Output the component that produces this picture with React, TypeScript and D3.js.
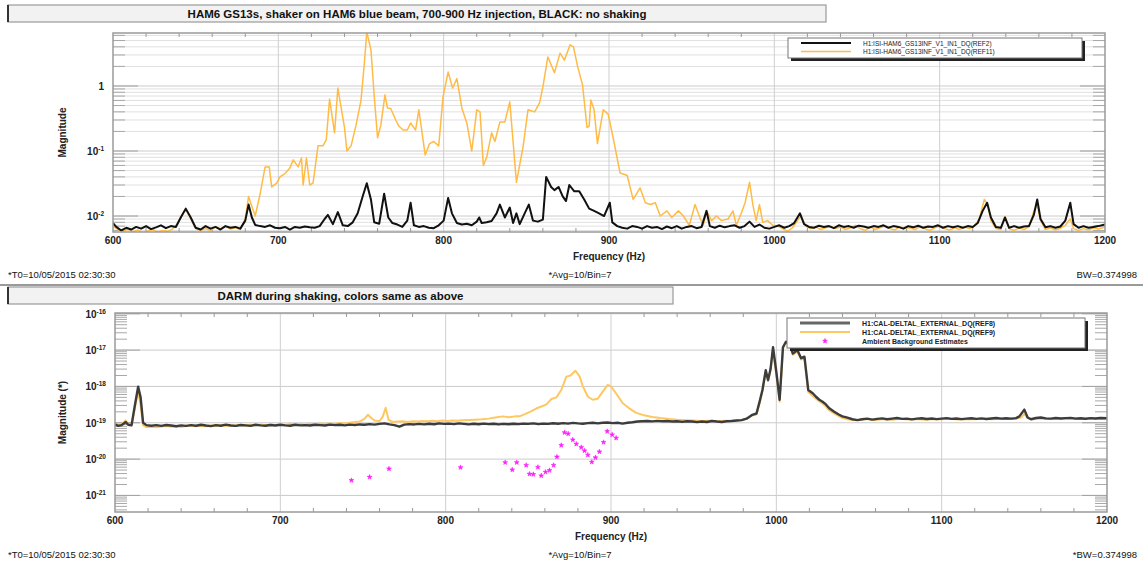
import React from 'react';
import * as d3 from 'd3';

type Pt = [number, number];

// ---- data (frequency in Hz, magnitude) ----
const freqTicks = [600, 700, 800, 900, 1000, 1100, 1200];
const topDecades = [0.01, 0.1, 1];
const topDecadeLabels: [string, string][] = [['10', '-2'], ['10', '-1'], ['1', '']];
const bottomDecades = [1e-21, 1e-20, 1e-19, 1e-18, 1e-17, 1e-16];
const bottomDecadeLabels: [string, string][] = [['10', '-21'], ['10', '-20'], ['10', '-19'], ['10', '-18'], ['10', '-17'], ['10', '-16']];

const topLegend = ['H1:ISI-HAM6_GS13INF_V1_IN1_DQ(REF2)', 'H1:ISI-HAM6_GS13INF_V1_IN1_DQ(REF11)'];
const bottomLegend = ['H1:CAL-DELTAL_EXTERNAL_DQ(REF8)', 'H1:CAL-DELTAL_EXTERNAL_DQ(REF9)', 'Ambient Background Estimates'];

// GS13, no shaking (black)
const gs13Quiet: Pt[] = [
  [600, 0.0078], [602, 0.0068], [605, 0.006], [608, 0.0066], [611, 0.0062], [614, 0.0068], [617, 0.0064], [620, 0.007],
  [623, 0.0063], [626, 0.0067], [629, 0.0072], [632, 0.0065], [635, 0.007], [638, 0.0068], [641, 0.0095], [644, 0.013],
  [647, 0.0095], [650, 0.0066], [653, 0.0062], [656, 0.007], [659, 0.0064], [662, 0.0068], [665, 0.0062], [668, 0.007],
  [671, 0.0066], [674, 0.0068], [677, 0.0064], [680, 0.0085], [682, 0.015], [684, 0.0095], [686, 0.0073], [689, 0.007],
  [692, 0.0068], [695, 0.0072], [698, 0.0066], [701, 0.0065], [704, 0.0068], [707, 0.0062], [710, 0.0068], [713, 0.0066],
  [716, 0.0069], [719, 0.0067], [722, 0.0066], [725, 0.007], [728, 0.009], [730, 0.0104], [733, 0.0075], [736, 0.0115],
  [739, 0.0072], [742, 0.007], [745, 0.008], [748, 0.011], [751, 0.02], [753.5, 0.032], [756, 0.018], [758, 0.008],
  [761, 0.0076], [764, 0.022], [766.5, 0.0095], [769, 0.0078], [772, 0.0074], [775, 0.0068], [778, 0.0085], [780, 0.016],
  [782, 0.0072], [785, 0.0068], [788, 0.007], [791, 0.0066], [794, 0.0065], [797, 0.0072], [800, 0.0085], [802.7, 0.019],
  [805, 0.011], [808, 0.0078], [811, 0.0074], [814, 0.0076], [817, 0.0072], [820, 0.0082], [821.5, 0.0095], [823, 0.0078],
  [826, 0.008], [829, 0.0084], [832, 0.011], [834, 0.015], [837, 0.0095], [840, 0.0135], [842, 0.0078], [844, 0.011],
  [846, 0.0075], [849, 0.011], [851.5, 0.015], [854, 0.0085], [857, 0.0082], [860, 0.0088], [862, 0.04], [865, 0.028],
  [867, 0.025], [869.5, 0.028], [872, 0.02], [874, 0.017], [876, 0.03], [879, 0.024], [882, 0.024], [885, 0.018],
  [888, 0.013], [891, 0.012], [894, 0.011], [897, 0.01], [900.5, 0.016], [902, 0.008], [905, 0.007], [908, 0.0066],
  [911, 0.0064], [914, 0.007], [917, 0.0068], [920, 0.0064], [923, 0.007], [926, 0.0066], [929, 0.0068], [932, 0.0063],
  [935, 0.0069], [938, 0.0065], [941, 0.007], [944, 0.0064], [947, 0.0068], [950, 0.007], [953, 0.0065], [956, 0.0068],
  [959, 0.012], [961, 0.007], [964, 0.0066], [967, 0.0071], [970, 0.0067], [973, 0.007], [976, 0.0072], [979, 0.0066],
  [982, 0.007], [985, 0.0082], [988, 0.0068], [991, 0.0074], [994, 0.0066], [997, 0.0064], [1000, 0.0068], [1003, 0.0072],
  [1006, 0.0066], [1009, 0.007], [1012, 0.0078], [1015.5, 0.011], [1018, 0.0075], [1021, 0.0068], [1024, 0.0066], [1027, 0.0071],
  [1030, 0.0068], [1033, 0.007], [1036, 0.0065], [1039, 0.0072], [1042, 0.0068], [1045, 0.007], [1048, 0.0066], [1051, 0.0071],
  [1054, 0.0069], [1057, 0.0066], [1060, 0.007], [1063, 0.0068], [1066, 0.0072], [1069, 0.0066], [1072, 0.007], [1075, 0.0068],
  [1078, 0.0064], [1081, 0.007], [1084, 0.0067], [1087, 0.0071], [1090, 0.0066], [1093, 0.0069], [1096, 0.0068], [1099, 0.0072],
  [1102, 0.0066], [1105, 0.007], [1108, 0.0067], [1111, 0.007], [1114, 0.0066], [1117, 0.007], [1120, 0.0068], [1123, 0.0078],
  [1126, 0.012], [1128.7, 0.016], [1131, 0.0095], [1134, 0.0068], [1137, 0.0066], [1139.5, 0.0095], [1142, 0.0066], [1145, 0.007],
  [1148, 0.0066], [1151, 0.0069], [1154, 0.007], [1157, 0.0105], [1159, 0.018], [1161, 0.009], [1164, 0.0067], [1167, 0.007],
  [1170, 0.0066], [1173, 0.0069], [1176, 0.0085], [1179, 0.016], [1181, 0.0075], [1184, 0.0066], [1187, 0.007], [1190, 0.0066],
  [1193, 0.0068], [1196, 0.007], [1200, 0.0074],
];

// GS13, shaker on (orange)
const gs13Shaking: Pt[] = [
  [600, 0.007], [603, 0.0062], [606, 0.0058], [609, 0.0063], [612, 0.0057], [615, 0.0061], [618, 0.0055], [621, 0.0059],
  [624, 0.0062], [627, 0.0057], [630, 0.006], [633, 0.0058], [636, 0.0063], [639, 0.0075], [641, 0.0098], [644, 0.0125],
  [647, 0.0092], [650, 0.0064], [653, 0.006], [656, 0.0064], [659, 0.006], [662, 0.0068], [665, 0.0064], [668, 0.007],
  [671, 0.0063], [674, 0.0066], [677, 0.0062], [680, 0.009], [682, 0.02], [684, 0.014], [686, 0.01], [689, 0.022],
  [692, 0.057], [694.5, 0.057], [696, 0.028], [699, 0.032], [701, 0.04], [704, 0.045], [707, 0.055], [709, 0.073],
  [712, 0.057], [714, 0.078], [715, 0.03], [717, 0.078], [719, 0.03], [721, 0.032], [724, 0.12], [727, 0.12],
  [729, 0.15], [731, 0.63], [734, 0.19], [736, 0.93], [740, 0.23], [741.5, 0.1], [744, 0.12], [747, 0.25],
  [750, 0.6], [752, 2.2], [753.5, 6.8], [756, 3.6], [758, 0.7], [760, 0.16], [762, 0.25], [764.5, 0.73],
  [766, 0.46], [768, 0.45], [771, 0.3], [773, 0.24], [775.5, 0.21], [778, 0.21], [780, 0.27], [783, 0.21],
  [785, 0.43], [788.8, 0.087], [791.5, 0.13], [794, 0.14], [797, 0.12], [799.6, 0.68], [802.7, 1.64], [805.4, 0.93],
  [808, 1.3], [811, 0.46], [814, 0.27], [817, 0.1], [820, 0.43], [822, 0.4], [824, 0.06], [826, 0.08],
  [829, 0.19], [831, 0.14], [834, 0.28], [837, 0.28], [840, 0.57], [844, 0.033], [848, 0.115], [851, 0.43],
  [855, 0.4], [858, 0.55], [860, 0.96], [863, 2.8], [867, 1.6], [870.4, 3.2], [873, 2.5], [876.5, 4.3],
  [878.5, 4.0], [881, 2.0], [884, 1.04], [886.7, 0.23], [888, 0.24], [889, 0.61], [891, 0.43], [893, 0.13],
  [896.5, 0.43], [899.5, 0.37], [902.5, 0.16], [906.7, 0.046], [909, 0.044], [911, 0.042], [914.6, 0.018], [918.8, 0.027],
  [922, 0.016], [925, 0.015], [928, 0.016], [931, 0.01], [935, 0.012], [938, 0.0095], [942, 0.012], [945, 0.01],
  [948.6, 0.0072], [952, 0.015], [955, 0.0095], [957, 0.0072], [959, 0.012], [962, 0.0085], [965, 0.01], [968, 0.0085],
  [972, 0.009], [975, 0.012], [977, 0.0072], [980, 0.011], [982.3, 0.016], [985, 0.033], [987, 0.015], [989, 0.0085],
  [991, 0.015], [993, 0.008], [996, 0.0085], [999, 0.0072], [1002, 0.007], [1005, 0.0064], [1008, 0.0058], [1011, 0.0066],
  [1014, 0.0085], [1016, 0.01], [1019, 0.007], [1022, 0.0064], [1025, 0.0068], [1028, 0.0062], [1031, 0.0066], [1034, 0.007],
  [1037, 0.0064], [1040, 0.0068], [1043, 0.0062], [1046, 0.0066], [1049, 0.0072], [1052, 0.0064], [1055, 0.006], [1058, 0.0068],
  [1061, 0.0062], [1064, 0.0066], [1067, 0.007], [1070, 0.0064], [1073, 0.0061], [1076, 0.0068], [1079, 0.0064], [1082, 0.0066],
  [1085, 0.0062], [1088, 0.0068], [1091, 0.0064], [1094, 0.006], [1097, 0.0066], [1100, 0.007], [1103, 0.0064], [1106, 0.0061],
  [1109, 0.0066], [1112, 0.0062], [1115, 0.0068], [1118, 0.0064], [1121, 0.007], [1124, 0.009], [1127, 0.018], [1129, 0.015],
  [1131, 0.0085], [1134, 0.0064], [1137, 0.0062], [1139.5, 0.0098], [1142, 0.0064], [1145, 0.006], [1148, 0.0066], [1151, 0.0062],
  [1154, 0.0068], [1157, 0.012], [1159, 0.015], [1161, 0.0085], [1164, 0.0062], [1167, 0.0066], [1170, 0.0061], [1173, 0.0065],
  [1176, 0.0072], [1179, 0.009], [1181, 0.0064], [1184, 0.006], [1187, 0.0064], [1190, 0.0061], [1193, 0.0066], [1196, 0.0063],
  [1200, 0.0068],
];

// DARM, no shaking (dark)
const darmQuiet: Pt[] = [
  [600, 9.0e-20], [602, 8.2e-20], [604, 8.6e-20], [606.5, 1.05e-19], [608, 8.8e-20], [610, 8.5e-20], [612, 3.0e-19], [614, 9.8e-19],
  [615.5, 5.0e-19], [617, 1.0e-19], [619, 8.6e-20], [622, 8.3e-20], [625, 8.6e-20], [628, 8.2e-20], [631, 8.7e-20], [634, 8.4e-20],
  [637, 8.0e-20], [640, 8.5e-20], [643, 8.2e-20], [646, 8.6e-20], [649, 8.3e-20], [652, 8.8e-20], [655, 8.4e-20], [658, 8.1e-20],
  [661, 8.6e-20], [664, 8.3e-20], [667, 8.9e-20], [670, 8.4e-20], [673, 8.2e-20], [676, 8.7e-20], [679, 8.5e-20], [682, 8.2e-20],
  [685, 8.8e-20], [688, 8.5e-20], [691, 8.3e-20], [694, 8.7e-20], [697, 8.4e-20], [700, 8.8e-20], [703, 8.5e-20], [706, 8.3e-20],
  [709, 8.8e-20], [712, 8.5e-20], [715, 8.6e-20], [718, 8.4e-20], [721, 8.8e-20], [724, 8.6e-20], [727, 8.4e-20], [730, 8.9e-20],
  [733, 8.6e-20], [736, 8.8e-20], [739, 8.5e-20], [742, 8.9e-20], [745, 8.7e-20], [748, 9.0e-20], [751, 8.8e-20], [754, 9.2e-20],
  [757, 8.9e-20], [760, 9.3e-20], [763, 9.6e-20], [766, 9.0e-20], [769, 8.6e-20], [772, 7.8e-20], [775, 8.9e-20], [778, 9.2e-20],
  [781, 9.0e-20], [784, 9.3e-20], [787, 9.0e-20], [790, 9.4e-20], [793, 9.1e-20], [796, 9.6e-20], [799, 9.3e-20], [802, 9.5e-20],
  [805, 9.2e-20], [808, 9.6e-20], [811, 9.3e-20], [814, 9.0e-20], [817, 9.4e-20], [820, 9.1e-20], [823, 9.5e-20], [826, 9.2e-20],
  [829, 9.4e-20], [832, 9.0e-20], [835, 9.3e-20], [838, 9.1e-20], [841, 9.4e-20], [844, 9.2e-20], [847, 9.5e-20], [850, 9.3e-20],
  [853, 9.6e-20], [856, 9.2e-20], [859, 9.5e-20], [862, 9.3e-20], [865, 9.7e-20], [868, 9.4e-20], [871, 9.8e-20], [874, 9.5e-20],
  [877, 9.9e-20], [880, 9.6e-20], [883, 9.4e-20], [886, 9.8e-20], [889, 1.0e-19], [892, 9.6e-20], [895, 1.0e-19], [898, 1.02e-19],
  [901, 9.8e-20], [904, 1.0e-19], [907, 9.5e-20], [910, 1.0e-19], [913, 1.03e-19], [916, 1.08e-19], [919, 1.1e-19], [922, 1.12e-19],
  [925, 1.09e-19], [928, 1.13e-19], [931, 1.1e-19], [934, 1.12e-19], [937, 1.08e-19], [940, 1.1e-19], [943, 1.06e-19], [946, 1.1e-19],
  [949, 1.08e-19], [952, 1.04e-19], [955, 1.08e-19], [958, 1.05e-19], [961, 1.12e-19], [964, 1.08e-19], [967, 1.05e-19], [970, 1.1e-19],
  [973, 1.12e-19], [976, 1.15e-19], [979, 1.18e-19], [982, 1.3e-19], [985.5, 1.66e-19], [988, 1.8e-19], [990, 4.0e-19], [991.6, 8.0e-19],
  [993.6, 2.8e-18], [995, 1.5e-18], [996.5, 3.0e-18], [998, 1.2e-17], [1000, 2.5e-18], [1002, 4.3e-19], [1004, 1.2e-17], [1005.8, 1.7e-17],
  [1008, 1.5e-17], [1010, 8.0e-18], [1012.7, 1.0e-17], [1015, 6.0e-18], [1017, 6.6e-18], [1019.3, 8.0e-19], [1022, 6.5e-19], [1024, 5.2e-19],
  [1026, 4.3e-19], [1028, 3.8e-19], [1030, 3.2e-19], [1032, 2.5e-19], [1035, 2.0e-19], [1038, 1.66e-19], [1040, 1.5e-19], [1043, 1.38e-19],
  [1046, 1.25e-19], [1049, 1.18e-19], [1052, 1.25e-19], [1055, 1.3e-19], [1058, 1.22e-19], [1061, 1.28e-19], [1064, 1.32e-19], [1067, 1.25e-19],
  [1070, 1.3e-19], [1073, 1.35e-19], [1076, 1.28e-19], [1079, 1.3e-19], [1082, 1.24e-19], [1085, 1.3e-19], [1088, 1.33e-19], [1091, 1.27e-19],
  [1094, 1.31e-19], [1097, 1.26e-19], [1100, 1.3e-19], [1103, 1.34e-19], [1106, 1.28e-19], [1109, 1.31e-19], [1112, 1.26e-19], [1115, 1.3e-19],
  [1118, 1.33e-19], [1121, 1.28e-19], [1124, 1.32e-19], [1127, 1.27e-19], [1130, 1.31e-19], [1133, 1.35e-19], [1136, 1.3e-19], [1139, 1.33e-19],
  [1142, 1.3e-19], [1145, 1.34e-19], [1147, 1.5e-19], [1150, 2.3e-19], [1152, 1.4e-19], [1154, 1.25e-19], [1157, 1.35e-19], [1160, 1.4e-19],
  [1163, 1.32e-19], [1166, 1.3e-19], [1169, 1.35e-19], [1172, 1.31e-19], [1175, 1.34e-19], [1178, 1.36e-19], [1181, 1.3e-19], [1184, 1.33e-19],
  [1187, 1.29e-19], [1190, 1.34e-19], [1193, 1.31e-19], [1196, 1.35e-19], [1200, 1.33e-19],
];

// DARM, shaker on (orange)
const darmShaking: Pt[] = [
  [600, 9.5e-20], [602, 8.8e-20], [604, 9.3e-20], [606.5, 1.15e-19], [608, 9.0e-20], [610, 8.6e-20], [612, 2.5e-19], [614, 7.5e-19],
  [615.5, 3.0e-19], [617, 8.5e-20], [619, 7.6e-20], [622, 7.8e-20], [625, 7.5e-20], [628, 7.9e-20], [631, 8.2e-20], [634, 7.8e-20],
  [637, 8.0e-20], [640, 7.7e-20], [643, 8.1e-20], [646, 8.4e-20], [649, 8.0e-20], [652, 8.3e-20], [655, 8.0e-20], [658, 8.4e-20],
  [661, 8.1e-20], [664, 8.5e-20], [667, 8.2e-20], [670, 8.6e-20], [673, 8.3e-20], [676, 8.7e-20], [679, 8.4e-20], [682, 8.8e-20],
  [685, 8.5e-20], [688, 8.9e-20], [691, 8.6e-20], [694, 9.0e-20], [697, 8.7e-20], [700, 9.0e-20], [703, 8.8e-20], [706, 9.2e-20],
  [709, 8.9e-20], [712, 9.3e-20], [715, 9.0e-20], [718, 9.4e-20], [721, 9.1e-20], [724, 9.5e-20], [727, 9.2e-20], [730, 9.6e-20],
  [733, 9.3e-20], [736, 9.8e-20], [739, 9.5e-20], [742, 1.0e-19], [745, 1.05e-19], [748, 1.08e-19], [751, 1.3e-19], [753, 1.66e-19],
  [755, 1.35e-19], [757, 1.15e-19], [760, 1.1e-19], [762, 1.5e-19], [763.7, 2.6e-19], [765.5, 1.2e-19], [768, 1.05e-19], [771, 1.08e-19],
  [774, 1.1e-19], [777, 1.05e-19], [780, 1.1e-19], [783, 1.08e-19], [786, 1.12e-19], [789, 1.1e-19], [792, 1.14e-19], [795, 1.1e-19],
  [798, 1.15e-19], [801, 1.12e-19], [804, 1.16e-19], [807, 1.13e-19], [810, 1.18e-19], [814.5, 1.2e-19], [818, 1.22e-19], [822, 1.25e-19],
  [826, 1.3e-19], [830, 1.4e-19], [834.5, 1.5e-19], [838, 1.42e-19], [842, 1.5e-19], [844.6, 1.5e-19], [847.6, 1.7e-19], [851, 2.0e-19],
  [855, 2.5e-19], [858, 2.8e-19], [861, 3.2e-19], [864, 4.5e-19], [867, 5.0e-19], [870, 8.1e-19], [873, 1.86e-18], [875.5, 2.0e-18],
  [878.5, 2.7e-18], [881, 1.9e-18], [883, 1.0e-18], [886, 5.2e-19], [889, 4.3e-19], [892, 4.6e-19], [895, 7.2e-19], [898, 1.1e-18],
  [900, 1.0e-18], [903, 6.5e-19], [907, 3.5e-19], [911, 2.5e-19], [915, 1.9e-19], [920, 1.6e-19], [925, 1.45e-19], [930, 1.35e-19],
  [935, 1.28e-19], [940, 1.22e-19], [945, 1.18e-19], [950, 1.15e-19], [955, 1.12e-19], [960, 1.13e-19], [965, 1.1e-19], [970, 1.14e-19],
  [975, 1.16e-19], [980, 1.2e-19], [983, 1.35e-19], [985.5, 1.6e-19], [988, 1.7e-19], [990, 3.6e-19], [991.6, 7.5e-19], [993.6, 2.5e-18],
  [995, 1.4e-18], [996.5, 2.8e-18], [998, 1.0e-17], [1000, 2.2e-18], [1002, 3.8e-19], [1004, 1.1e-17], [1005.8, 1.6e-17], [1008, 1.4e-17],
  [1010, 7.5e-18], [1012.7, 9.0e-18], [1015, 5.5e-18], [1017, 6.0e-18], [1019.3, 7.0e-19], [1022, 5.5e-19], [1024, 4.6e-19], [1026, 3.9e-19],
  [1028, 3.4e-19], [1030, 2.8e-19], [1032, 2.2e-19], [1035, 1.8e-19], [1038, 1.5e-19], [1040, 1.35e-19], [1043, 1.25e-19], [1046, 1.2e-19],
  [1050, 1.22e-19], [1055, 1.27e-19], [1060, 1.2e-19], [1065, 1.26e-19], [1070, 1.22e-19], [1075, 1.28e-19], [1080, 1.23e-19], [1085, 1.27e-19],
  [1090, 1.22e-19], [1095, 1.26e-19], [1100, 1.24e-19], [1105, 1.28e-19], [1110, 1.23e-19], [1115, 1.27e-19], [1120, 1.24e-19], [1125, 1.28e-19],
  [1130, 1.25e-19], [1135, 1.29e-19], [1140, 1.26e-19], [1145, 1.3e-19], [1148, 1.4e-19], [1150, 1.75e-19], [1152, 1.35e-19], [1155, 1.25e-19],
  [1160, 1.32e-19], [1165, 1.27e-19], [1170, 1.3e-19], [1175, 1.28e-19], [1180, 1.31e-19], [1185, 1.27e-19], [1190, 1.3e-19], [1195, 1.28e-19],
  [1200, 1.3e-19],
];

// ambient background estimates (magenta)
const ambientEstimates: Pt[] = [
  [743, 2.6e-21], [754, 3.2e-21], [765.7, 5.4e-21], [809, 5.9e-21], [836, 8.1e-21], [840.3, 5.1e-21], [843, 8.1e-21], [848.7, 6.8e-21],
  [850.7, 3.9e-21], [853, 3.8e-21], [855.8, 6.0e-21], [857.8, 3.5e-21], [860.4, 4.4e-21], [862.8, 4.9e-21], [865.3, 6.8e-21], [867.3, 1.15e-20],
  [869.9, 2.4e-20], [871.9, 5.4e-20], [874.1, 5.0e-20], [876.9, 3.4e-20], [879, 2.6e-20], [882, 2.1e-20], [884, 1.7e-20], [886, 1.3e-20],
  [888.4, 8.3e-21], [890.6, 1.1e-20], [893, 1.6e-20], [895.5, 2.9e-20], [897.7, 5.8e-20], [900.7, 4.7e-20], [903.1, 3.8e-20],
];

const FONT = '"Liberation Sans", Arial, Helvetica, sans-serif';
const MAGENTA = '#ff1cff';

type Series = { data: Pt[]; color: string; width: number };
type LegendItem = { label: string; color: string; width: number; marker?: boolean };

type PanelProps = {
  id: string;
  top: number;
  left: number;
  right: number;
  bottom: number;
  yDomain: [number, number];
  decades: number[];
  decadeLabels: [string, string][];
  minorGrid: boolean;
  series: Series[];
  points?: Pt[];
  title: string;
  titleBox: [number, number, number, number];
  yLabel: string;
  legend: { x: number; y: number; w: number; items: LegendItem[]; bold: boolean };
  footer: [string, string, string];
};

const Panel = (p: PanelProps) => {
  const x = d3.scaleLinear().domain([600, 1200]).range([p.left, p.right]);
  const y = d3.scaleLog().domain(p.yDomain).range([p.bottom, p.top]);
  const line = d3.line<Pt>().x((d) => x(d[0])).y((d) => y(d[1]));
  const w = p.right - p.left;

  const minors: number[] = [];
  const lo = Math.floor(Math.log10(p.yDomain[0]));
  const hi = Math.ceil(Math.log10(p.yDomain[1]));
  for (let e = lo; e < hi; e++) {
    for (let k = 2; k <= 9; k++) {
      const v = k * Math.pow(10, e);
      if (v > p.yDomain[0] && v < p.yDomain[1]) minors.push(v);
    }
  }
  const xMinor = d3.range(620, 1200, 20).filter((f) => f % 100 !== 0);
  const star = d3.symbol().type(d3.symbolStar).size(7)() as string;
  const [tx, ty, tw, th] = p.titleBox;
  const lg = p.legend;
  const rowH = lg.bold ? 9 : 8.5;
  const lh = lg.items.length * rowH + 3;

  return (
    <g>
      <defs>
        <clipPath id={p.id}>
          <rect x={p.left} y={p.top} width={w} height={p.bottom - p.top} />
        </clipPath>
      </defs>
      {/* title box */}
      <rect x={tx} y={ty} width={tw} height={th} fill="#f2f2f2" stroke="#9a9a9a" strokeWidth={1.2} />
      <line x1={tx} x2={tx} y1={ty} y2={ty + th} stroke="#333" strokeWidth={2} />
      <text x={tx + tw / 2} y={ty + th / 2 + 4} textAnchor="middle" fontFamily={FONT} fontWeight="bold" fontSize={11.5} fill="#111">
        {p.title}
      </text>

      <rect x={p.left} y={p.top} width={w} height={p.bottom - p.top} fill="#fff" />
      {/* horizontal grid */}
      {p.minorGrid &&
        minors.map((v, i) => (
          <line key={'m' + i} x1={p.left} x2={p.right} y1={y(v)} y2={y(v)} stroke="#e0e0e0" strokeWidth={1} />
        ))}
      {p.decades.map((v, i) => (
        <line key={'M' + i} x1={p.left} x2={p.right} y1={y(v)} y2={y(v)} stroke="#cbcbcb" strokeWidth={1} />
      ))}
      {/* vertical grid */}
      {freqTicks.slice(1, -1).map((f) => (
        <line key={'v' + f} x1={x(f)} x2={x(f)} y1={p.top} y2={p.bottom} stroke="#cfcfcf" strokeWidth={1} />
      ))}
      {/* ticks */}
      {minors.map((v, i) => (
        <g key={'t' + i} stroke="#a8a8a8" strokeWidth={1}>
          <line x1={p.left} x2={p.left + 12} y1={y(v)} y2={y(v)} />
          <line x1={p.right - 12} x2={p.right} y1={y(v)} y2={y(v)} />
        </g>
      ))}
      {p.decades.map((v, i) => (
        <g key={'T' + i} stroke="#a0a0a0" strokeWidth={1}>
          <line x1={p.left} x2={p.left + 25} y1={y(v)} y2={y(v)} />
          <line x1={p.right - 25} x2={p.right} y1={y(v)} y2={y(v)} />
        </g>
      ))}
      {xMinor.map((f) => (
        <g key={'xm' + f} stroke="#999" strokeWidth={1}>
          <line x1={x(f)} x2={x(f)} y1={p.top} y2={p.top + 4} />
          <line x1={x(f)} x2={x(f)} y1={p.bottom - 4} y2={p.bottom} />
        </g>
      ))}

      {/* data */}
      <g clipPath={`url(#${p.id})`}>
        {p.series.map((s, i) => (
          <path key={'s' + i} d={line(s.data) || ''} fill="none" stroke={s.color} strokeWidth={s.width} strokeLinejoin="round" />
        ))}
        {p.points &&
          p.points.map((d, i) => (
            <path key={'p' + i} d={star} transform={`translate(${x(d[0])},${y(d[1])})`} fill={MAGENTA} stroke={MAGENTA} strokeWidth={0.6} />
          ))}
      </g>
      <rect x={p.left} y={p.top} width={w} height={p.bottom - p.top} fill="none" stroke="#9a9a9a" strokeWidth={1.5} />

      {/* axis labels */}
      {freqTicks.map((f) => (
        <text key={'xl' + f} x={x(f)} y={p.bottom + 12} textAnchor="middle" fontFamily={FONT} fontWeight="bold" fontSize={10} fill="#222">
          {f}
        </text>
      ))}
      {p.decades.map((v, i) => (
        <text key={'yl' + i} x={p.left - 9} y={y(v) + 4} textAnchor="end" fontFamily={FONT} fontWeight="bold" fontSize={10} fill="#222">
          {p.decadeLabels[i][0]}
          {p.decadeLabels[i][1] && (
            <tspan fontSize={6.5} dy={-4}>
              {p.decadeLabels[i][1]}
            </tspan>
          )}
        </text>
      ))}
      <text x={(p.left + p.right) / 2} y={p.bottom + 28} textAnchor="middle" fontFamily={FONT} fontWeight="bold" fontSize={10} fill="#222">
        Frequency (Hz)
      </text>
      <text
        transform={`translate(66,${(p.top + p.bottom) / 2}) rotate(-90)`}
        textAnchor="middle"
        fontFamily={FONT}
        fontWeight="bold"
        fontSize={10}
        fill="#222"
      >
        {p.yLabel}
      </text>

      {/* legend */}
      <rect x={lg.x + 3} y={lg.y + 3} width={lg.w} height={lh} fill="#222" />
      <rect x={lg.x} y={lg.y} width={lg.w} height={lh} fill="#fff" stroke="#777" strokeWidth={1} />
      {lg.items.map((it, i) => {
        const ry = lg.y + 5 + i * rowH;
        return (
          <g key={'lg' + i}>
            {it.marker ? (
              <path d={star} transform={`translate(${lg.x + 38},${ry})`} fill={it.color} stroke={it.color} strokeWidth={0.6} />
            ) : (
              <line x1={lg.x + 13} x2={lg.x + 63} y1={ry} y2={ry} stroke={it.color} strokeWidth={it.width} />
            )}
            <text x={lg.x + 75} y={ry + 2.5} fontFamily={FONT} fontWeight={lg.bold ? 'bold' : 'normal'} fontSize={lg.bold ? 7 : 6.5} fill="#222">
              {it.label}
            </text>
          </g>
        );
      })}

      {/* footer */}
      <text x={8} y={p.bottom + 46} fontFamily={FONT} fontSize={9.5} fill="#111">
        {p.footer[0]}
      </text>
      <text x={580} y={p.bottom + 46} textAnchor="middle" fontFamily={FONT} fontSize={9.5} fill="#111">
        {p.footer[1]}
      </text>
      <text x={1137} y={p.bottom + 46} textAnchor="end" fontFamily={FONT} fontSize={9.5} fill="#111">
        {p.footer[2]}
      </text>
    </g>
  );
};

export default function App() {
  const topBlack = { color: '#111', width: 2 };
  const topOrange = { color: '#ffbb45', width: 1.5 };
  const botBlack = { color: '#3c3c3c', width: 2.4 };
  const botOrange = { color: '#ffc760', width: 2 };
  return (
    <svg width={1143} height={567} style={{ position: 'absolute', left: 0, top: 0, background: '#fff' }}>
      <Panel
        id="clipTop"
        top={33}
        bottom={232}
        left={113}
        right={1105}
        yDomain={[0.00568, 6.53]}
        decades={topDecades}
        decadeLabels={topDecadeLabels}
        minorGrid={true}
        series={[
          { data: gs13Shaking, ...topOrange },
          { data: gs13Quiet, ...topBlack },
        ]}
        title="HAM6 GS13s, shaker on HAM6 blue beam, 700-900 Hz injection, BLACK: no shaking"
        titleBox={[8, 5, 818, 17]}
        yLabel="Magnitude"
        legend={{
          x: 788,
          y: 38,
          w: 294,
          bold: false,
          items: [
            { label: topLegend[0], ...topBlack },
            { label: topLegend[1], ...topOrange },
          ],
        }}
        footer={['*T0=10/05/2015 02:30:30', '*Avg=10/Bin=7', 'BW=0.374998']}
      />
      <line x1={0} x2={1143} y1={285} y2={285} stroke="#9a9a9a" strokeWidth={2} />
      <Panel
        id="clipBottom"
        top={313}
        bottom={512}
        left={115}
        right={1107}
        yDomain={[3.5e-22, 1.05e-16]}
        decades={bottomDecades}
        decadeLabels={bottomDecadeLabels}
        minorGrid={false}
        series={[
          { data: darmShaking, ...botOrange },
          { data: darmQuiet, ...botBlack },
        ]}
        points={ambientEstimates}
        title="DARM during shaking, colors same as above"
        titleBox={[8, 287, 665, 17]}
        yLabel="Magnitude (*)"
        legend={{
          x: 787,
          y: 318,
          w: 298,
          bold: true,
          items: [
            { label: bottomLegend[0], ...botBlack, color: '#666', width: 3 },
            { label: bottomLegend[1], ...botOrange },
            { label: bottomLegend[2], color: MAGENTA, width: 0, marker: true },
          ],
        }}
        footer={['*T0=10/05/2015 02:30:30', '*Avg=10/Bin=7', '*BW=0.374998']}
      />
    </svg>
  );
}
